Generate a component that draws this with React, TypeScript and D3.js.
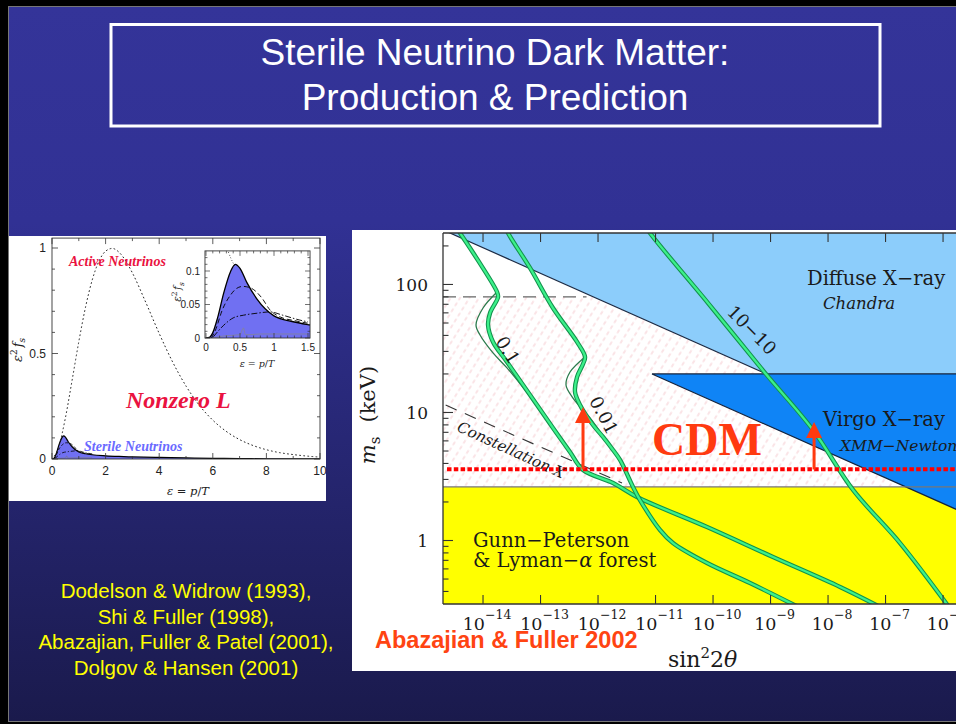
import React from "react";
import * as d3 from "d3";

type Pt = [number, number];

// ---------------- Left panel: momentum spectra ----------------
const activeEps = [0, 0.25, 0.5, 0.75, 1, 1.25, 1.5, 1.75, 2, 2.25, 2.5, 2.75, 3, 3.5, 4, 4.5, 5, 5.5, 6, 6.5, 7, 7.5, 8, 8.5, 9, 9.5, 10];
const activeVals = [0, 0.057, 0.195, 0.373, 0.556, 0.719, 0.848, 0.937, 0.985, 0.998, 0.98, 0.939, 0.882, 0.742, 0.595, 0.46, 0.346, 0.254, 0.184, 0.131, 0.092, 0.064, 0.044, 0.03, 0.021, 0.014, 0.009];

const sterileEps = [0, 0.05, 0.1, 0.17, 0.26, 0.36, 0.43, 0.5, 0.6, 0.75, 1.0, 1.25, 1.5, 2, 2.5, 3, 4, 5, 6, 7, 8, 9, 10];
const sterileVals = [0, 0.001, 0.008, 0.03, 0.067, 0.099, 0.11, 0.104, 0.083, 0.058, 0.033, 0.025, 0.02, 0.015, 0.012, 0.01, 0.0075, 0.005, 0.0032, 0.0018, 0.001, 0.0005, 0.0003];

const dashEps = [0.08, 0.14, 0.24, 0.36, 0.45, 0.54, 0.65, 0.82, 0.94, 1.1, 1.3, 1.5];
const dashVals = [0, 0.012, 0.042, 0.064, 0.074, 0.077, 0.075, 0.06, 0.042, 0.031, 0.026, 0.022];

const dashDotEps = [0.11, 0.26, 0.4, 0.55, 0.75, 0.94, 1.13, 1.37, 1.5];
const dashDotVals = [0.002, 0.019, 0.03, 0.034, 0.037, 0.039, 0.034, 0.027, 0.024];

const thinEps = [0.1, 0.26, 0.5, 0.55, 0.58, 0.65, 0.8, 1.0, 1.5];
const thinVals = [0, 0.003, 0.005, 0.015, 0.005, 0.005, 0.006, 0.006, 0.006];

const dottedInsetEps = [0.33, 0.37, 0.42];
const dottedInsetVals = [0.128, 0.118, 0.108];

const leftXTicks = [0, 2, 4, 6, 8, 10];
const leftXLabels = ["0", "2", "4", "6", "8", "10"];
const leftYTicks = [0, 0.5, 1];
const leftYLabels = ["0", "0.5", "1"];
const insetXTicks = [0, 0.5, 1, 1.5];
const insetXLabels = ["0", "0.5", "1", "1.5"];
const insetYTicks = [0, 0.05, 0.1];
const insetYLabels = ["0", "0.05", "0.1"];

const citations = [
  "Dodelson & Widrow (1993),",
  "Shi & Fuller (1998),",
  "Abazajian, Fuller & Patel (2001),",
  "Dolgov & Hansen (2001)",
];

// ---------------- Right panel: (log10 sin^2 2theta, log10 m_s/keV) ----------------
const curve01Thick: Pt[] = [
  [-14.49, 2.465], [-14.4, 2.402], [-14.07, 2.176], [-13.757, 1.941], [-13.739, 1.902], [-13.878, 1.777],
  [-13.913, 1.684], [-13.826, 1.551], [-13.583, 1.395], [-13.304, 1.215], [-13.061, 1.059], [-12.783, 0.879],
  [-12.487, 0.691], [-12.261, 0.551], [-11.739, 0.449], [-11.322, 0.34], [-10.104, 0.105], [-8.957, -0.129],
  [-7.791, -0.363], [-7.05, -0.53],
];
const curve01Thin: Pt[] = [
  [-13.757, 1.941], [-14.0, 1.816], [-14.122, 1.684], [-14.052, 1.605], [-13.826, 1.465], [-13.583, 1.348],
  [-13.27, 1.176], [-13.009, 1.02],
];
const curve001Thick: Pt[] = [
  [-13.62, 2.46], [-13.565, 2.402], [-13.183, 2.129], [-12.783, 1.816], [-12.365, 1.551], [-12.226, 1.434],
  [-12.261, 1.379], [-12.365, 1.277], [-12.4, 1.16], [-12.313, 1.059], [-12.087, 0.902], [-11.913, 0.809],
  [-11.739, 0.707], [-11.617, 0.629], [-11.391, 0.418], [-11.27, 0.316], [-10.922, 0.082], [-10.696, -0.02],
  [-10.104, -0.176], [-9.357, -0.332], [-8.47, -0.53],
];
const curve001Thin: Pt[] = [
  [-12.226, 1.434], [-12.487, 1.316], [-12.557, 1.215], [-12.435, 1.113], [-12.139, 0.957], [-11.913, 0.816],
];
const curve1e10: Pt[] = [
  [-11.183, 2.465], [-11.096, 2.402], [-10.087, 1.855], [-9.096, 1.309], [-8.261, 0.863], [-7.565, 0.395],
  [-6.748, -0.02], [-5.88, -0.53],
];

const diffuseLine: Pt[] = [[-14.65, 2.417], [-5.5, 0.587]];
const virgoRegion: Pt[] = [[-11.061, 1.301], [-5.5, 1.301], [-5.5, 0.189]];
const lymanTopKeV = 2.62;
const tremaineKeV = 80;
const tremaineEnd = -12.2;
const constellationLine: Pt[] = [[-14.65, 1.058], [-11.583, 0.449]];
const cdmKeV = 3.6;
const arrows: { x: number; base: number; tip: number }[] = [
  { x: -12.261, base: 0.555, tip: 1.043 },
  { x: -8.243, base: 0.555, tip: 0.926 },
];
const xDecades = [-14, -13, -12, -11, -10, -9, -8, -7, -6];
const yMajorKeV = [1, 10, 100];
const yMajorLabels = ["1", "10", "100"];

const serif = "'DejaVu Serif', serif";
const sans = "'Liberation Sans', Arial, sans-serif";
const tserif = "'Liberation Serif', 'Times New Roman', serif";

function GreenCurve({ d }: { d: string }) {
  return (
    <g fill="none" strokeLinejoin="round" strokeLinecap="round">
      <path d={d} stroke="#12924c" strokeWidth={4.4} />
      <path d={d} stroke="#3cf08a" strokeWidth={2.3} />
    </g>
  );
}

export default function App() {
  // ---------- left scales ----------
  const xL = d3.scaleLinear().domain([0, 10]).range([52, 320]);
  const yL = d3.scaleLinear().domain([0, 1]).range([459, 248]);
  const xI = d3.scaleLinear().domain([0, 1.5]).range([206, 308]);
  const yI = d3.scaleLinear().domain([0, 0.1]).range([338, 271]);

  const lineFrom = (xs: number[], ys: number[], sx: any, sy: any) =>
    d3.line<number>().x((_, i) => sx(xs[i])).y((_, i) => sy(ys[i])).curve(d3.curveMonotoneX)(xs) || "";
  const areaFrom = (xs: number[], ys: number[], sx: any, sy: any) =>
    d3.area<number>().x((_, i) => sx(xs[i])).y0(sy(0)).y1((_, i) => sy(ys[i])).curve(d3.curveMonotoneX)(xs) || "";

  const lf = { x0: xL(0), x1: xL(10), y0: yL(0), y1: yL(1.047) };
  const inf = { x0: xI(-0.015), x1: xI(1.53), y0: yI(0), y1: yI(0.13) };

  // ---------- right scales ----------
  const xR = d3.scaleLog().domain([10 ** -14.696, 10 ** -5.5]).range([443, 971.8]);
  const yR = d3.scaleLog().domain([10 ** -0.496, 10 ** 2.402]).range([604, 233]);
  const px = (p: Pt): [number, number] => [xR(10 ** p[0]), yR(10 ** p[1])];
  const curve = (pts: Pt[]) =>
    d3.line<Pt>().x((p) => px(p)[0]).y((p) => px(p)[1]).curve(d3.curveCatmullRom.alpha(0.5))(pts) || "";
  const poly = (pts: Pt[]) => pts.map((p) => px(p).join(",")).join(" ");
  const R = { x0: 443, x1: 972, y0: 604, y1: 233 };

  const diffSlope = (diffuseLine[1][1] - diffuseLine[0][1]) / (diffuseLine[1][0] - diffuseLine[0][0]);
  const diffAt = (lx: number) => diffuseLine[0][1] + diffSlope * (lx - diffuseLine[0][0]);
  const tremaineStart = diffuseLine[0][0] + (Math.log10(tremaineKeV) - diffuseLine[0][1]) / diffSlope;
  const diffusePoly: Pt[] = [diffuseLine[0], diffuseLine[1], [-5.5, 2.6], [-14.65, 2.6]];
  const hatchPoly: Pt[] = [
    [-14.7, Math.log10(tremaineKeV)],
    [tremaineStart, Math.log10(tremaineKeV)],
    [-5.5, diffAt(-5.5)],
    [-5.5, Math.log10(lymanTopKeV)],
    [-14.7, Math.log10(lymanTopKeV)],
  ];

  const yTicksR = yR.ticks();
  const isMajor = (v: number) => Math.abs(Math.log10(v) - Math.round(Math.log10(v))) < 1e-6;

  const tickColor = "#222";

  return (
    <svg width={956} height={724} style={{ display: "block" }}>
      <style>{"body{margin:0;background:#000;}"}</style>
      <defs>
        <linearGradient id="bg" x1="0" y1="0" x2="0" y2="1">
          <stop offset="0%" stopColor="#343499" />
          <stop offset="30%" stopColor="#313194" />
          <stop offset="100%" stopColor="#1a1a4c" />
        </linearGradient>
        <pattern id="hatch" width="8" height="7" patternUnits="userSpaceOnUse" patternTransform="rotate(32)">
          <line x1="4" y1="0.5" x2="4" y2="4.5" stroke="#f5c9ce" strokeWidth="1" />
        </pattern>
        <clipPath id="clipR">
          <rect x={R.x0} y={R.y1} width={R.x1 - R.x0} height={R.y0 - R.y1} />
        </clipPath>
        <clipPath id="clipL">
          <rect x={lf.x0} y={lf.y1} width={lf.x1 - lf.x0} height={lf.y0 - lf.y1} />
        </clipPath>
        <clipPath id="clipI">
          <rect x={inf.x0} y={inf.y1} width={inf.x1 - inf.x0} height={inf.y0 - inf.y1} />
        </clipPath>
      </defs>

      {/* slide background */}
      <rect x={0} y={0} width={956} height={724} fill="#000" />
      <rect x={8.5} y={6.5} width={960} height={715} fill="url(#bg)" stroke="#777" strokeWidth={1} />

      {/* title */}
      <rect x={111} y={24.5} width={769} height={101.5} fill="none" stroke="#fff" strokeWidth={3} />
      <text x={495} y={65} textAnchor="middle" fill="#fff" fontFamily={sans} fontSize={37}>
        Sterile Neutrino Dark Matter:
      </text>
      <text x={495} y={110} textAnchor="middle" fill="#fff" fontFamily={sans} fontSize={37}>
        Production &amp; Prediction
      </text>

      {/* ================= LEFT PANEL ================= */}
      <rect x={9} y={236} width={317} height={265} fill="#fff" />
      <g clipPath="url(#clipL)">
        <path d={areaFrom(sterileEps, sterileVals, xL, yL)} fill="#7070f2" />
        <path d={lineFrom(dashEps, dashVals, xL, yL)} fill="none" stroke="#000" strokeWidth={0.8} strokeDasharray="3 2" />
        <path d={lineFrom(dashDotEps, dashDotVals, xL, yL)} fill="none" stroke="#000" strokeWidth={0.8} strokeDasharray="4 2 1 2" />
        <path d={lineFrom(thinEps, thinVals, xL, yL)} fill="none" stroke="#777" strokeWidth={0.6} />
        <path d={lineFrom(sterileEps, sterileVals, xL, yL)} fill="none" stroke="#000" strokeWidth={1.2} />
        <path d={lineFrom(activeEps, activeVals, xL, yL)} fill="none" stroke="#222" strokeWidth={1} strokeDasharray="0.9 3.2" strokeLinecap="round" />
      </g>
      <rect x={lf.x0} y={lf.y1} width={lf.x1 - lf.x0} height={lf.y0 - lf.y1} fill="none" stroke="#333" strokeWidth={0.9} />
      {/* left ticks */}
      <g stroke="#333" strokeWidth={0.8}>
        {d3.range(0, 10.001, 1).map((v) => {
          const len = Math.abs(v % 2) < 1e-6 ? 6 : 3;
          return (
            <g key={"lx" + v}>
              <line x1={xL(v)} x2={xL(v)} y1={lf.y0} y2={lf.y0 - len} />
              <line x1={xL(v)} x2={xL(v)} y1={lf.y1} y2={lf.y1 + len} />
            </g>
          );
        })}
        {d3.range(0, 1.0001, 0.1).map((v) => {
          const major = Math.abs(v - 0) < 1e-6 || Math.abs(v - 0.5) < 1e-6 || Math.abs(v - 1) < 1e-6;
          const len = major ? 6 : 3;
          return (
            <g key={"ly" + v}>
              <line x1={lf.x0} x2={lf.x0 + len} y1={yL(v)} y2={yL(v)} />
              <line x1={lf.x1} x2={lf.x1 - len} y1={yL(v)} y2={yL(v)} />
            </g>
          );
        })}
      </g>
      <g fontFamily={sans} fontSize={12} fill={tickColor}>
        {leftXTicks.map((v, i) => (
          <text key={"lxl" + v} x={xL(v)} y={475} textAnchor="middle">{leftXLabels[i]}</text>
        ))}
        {leftYTicks.map((v, i) => (
          <text key={"lyl" + v} x={46} y={yL(v) + 4} textAnchor="end">{leftYLabels[i]}</text>
        ))}
      </g>
      <text x={188} y={495} textAnchor="middle" fontFamily={serif} fontSize={11.5} fill="#222">
        <tspan fontStyle="italic">ε</tspan> = <tspan fontStyle="italic">p</tspan>/<tspan fontStyle="italic">T</tspan>
      </text>
      <text transform="translate(22,350) rotate(-90)" textAnchor="middle" fontFamily={serif} fontSize={13} fill="#222">
        <tspan fontStyle="italic">ε</tspan>
        <tspan dy={-5} fontSize={9}>2</tspan>
        <tspan dy={5} dx={2} fontStyle="italic">f</tspan>
        <tspan dy={3} fontSize={9} fontStyle="italic">s</tspan>
      </text>
      <text x={69} y={266} fontFamily={tserif} fontStyle="italic" fontWeight="bold" fontSize={14} fill="#ea1240">
        Active Neutrinos
      </text>
      <text x={126} y={408} fontFamily={tserif} fontStyle="italic" fontWeight="bold" fontSize={24} fill="#ea1240">
        Nonzero L
      </text>
      <text x={84} y={451} fontFamily={tserif} fontStyle="italic" fontWeight="bold" fontSize={14} fill="#6a6aff">
        Sterile Neutrinos
      </text>

      {/* inset */}
      <rect x={inf.x0} y={inf.y1} width={inf.x1 - inf.x0} height={inf.y0 - inf.y1} fill="#fff" />
      <g clipPath="url(#clipI)">
        <path d={areaFrom(sterileEps, sterileVals, xI, yI)} fill="#7070f2" />
        <path d={lineFrom(dashEps, dashVals, xI, yI)} fill="none" stroke="#000" strokeWidth={0.9} strokeDasharray="5 3" />
        <path d={lineFrom(dashDotEps, dashDotVals, xI, yI)} fill="none" stroke="#000" strokeWidth={0.9} strokeDasharray="6 2 1.5 2" />
        <path d={lineFrom(thinEps, thinVals, xI, yI)} fill="none" stroke="#888" strokeWidth={0.7} />
        <path d={lineFrom(dottedInsetEps, dottedInsetVals, xI, yI)} fill="none" stroke="#222" strokeWidth={0.9} strokeDasharray="0.8 2" />
        <path d={lineFrom(sterileEps, sterileVals, xI, yI)} fill="none" stroke="#000" strokeWidth={1.3} />
      </g>
      <rect x={inf.x0} y={inf.y1} width={inf.x1 - inf.x0} height={inf.y0 - inf.y1} fill="none" stroke="#333" strokeWidth={0.9} />
      <g stroke="#333" strokeWidth={0.7}>
        {d3.range(0, 1.5001, 0.1).map((v) => {
          const major = Math.abs(v * 2 - Math.round(v * 2)) < 1e-6;
          const len = major ? 5 : 2.5;
          return (
            <g key={"ix" + v}>
              <line x1={xI(v)} x2={xI(v)} y1={inf.y0} y2={inf.y0 - len} />
              <line x1={xI(v)} x2={xI(v)} y1={inf.y1} y2={inf.y1 + len} />
            </g>
          );
        })}
        {d3.range(0, 0.13, 0.01).map((v) => {
          const major = Math.abs(v * 20 - Math.round(v * 20)) < 1e-6;
          const len = major ? 5 : 2.5;
          return (
            <g key={"iy" + v}>
              <line x1={inf.x0} x2={inf.x0 + len} y1={yI(v)} y2={yI(v)} />
              <line x1={inf.x1} x2={inf.x1 - len} y1={yI(v)} y2={yI(v)} />
            </g>
          );
        })}
      </g>
      <g fontFamily={sans} fontSize={10} fill={tickColor}>
        {insetXTicks.map((v, i) => (
          <text key={"ixl" + v} x={xI(v)} y={351} textAnchor="middle">{insetXLabels[i]}</text>
        ))}
        {insetYTicks.map((v, i) => (
          <text key={"iyl" + v} x={200} y={yI(v) + 3.5} textAnchor="end">{insetYLabels[i]}</text>
        ))}
      </g>
      <text x={257} y={367} textAnchor="middle" fontFamily={serif} fontSize={9.5} fill="#222">
        <tspan fontStyle="italic">ε</tspan> = <tspan fontStyle="italic">p</tspan>/<tspan fontStyle="italic">T</tspan>
      </text>
      <text transform="translate(181,292) rotate(-90)" textAnchor="middle" fontFamily={serif} fontSize={10.5} fill="#222">
        <tspan fontStyle="italic">ε</tspan>
        <tspan dy={-4} fontSize={7.5}>2</tspan>
        <tspan dy={4} dx={1.5} fontStyle="italic">f</tspan>
        <tspan dy={2.5} fontSize={7.5} fontStyle="italic">s</tspan>
      </text>

      {/* citations */}
      <g fontFamily={sans} fontSize={20.5} fill="#ffff00" textAnchor="middle">
        {citations.map((c, i) => (
          <text key={c} x={186} y={598 + i * 25.7}>{c}</text>
        ))}
      </g>

      {/* ================= RIGHT PANEL ================= */}
      <rect x={352} y={230} width={610} height={441} fill="#fff" />
      <g clipPath="url(#clipR)">
        <rect x={R.x0} y={yR(lymanTopKeV)} width={R.x1 - R.x0} height={R.y0 - yR(lymanTopKeV)} fill="#ffff00" />
        <polygon points={poly(hatchPoly)} fill="url(#hatch)" />
        <polygon points={poly(diffusePoly)} fill="#8ccdfb" />
        <line x1={px(diffuseLine[0])[0]} y1={px(diffuseLine[0])[1]} x2={px(diffuseLine[1])[0]} y2={px(diffuseLine[1])[1]} stroke="#1b2a44" strokeWidth={1.2} />
        <polygon points={poly(virgoRegion)} fill="#0f84f6" stroke="#14233d" strokeWidth={1.2} />
        <line x1={R.x0} x2={R.x1} y1={yR(lymanTopKeV)} y2={yR(lymanTopKeV)} stroke="#777" strokeWidth={1.3} />
        <line x1={R.x0} x2={xR(10 ** tremaineEnd)} y1={yR(tremaineKeV)} y2={yR(tremaineKeV)} stroke="#666" strokeWidth={1.2} strokeDasharray="13 7" />
        <line x1={px(constellationLine[0])[0]} y1={px(constellationLine[0])[1]} x2={px(constellationLine[1])[0]} y2={px(constellationLine[1])[1]} stroke="#333" strokeWidth={1.1} strokeDasharray="12 9" />

        <path d={curve(curve01Thin)} fill="none" stroke="#2c7a4c" strokeWidth={1.3} />
        <path d={curve(curve001Thin)} fill="none" stroke="#2c7a4c" strokeWidth={1.3} />
        <GreenCurve d={curve(curve01Thick)} />
        <GreenCurve d={curve(curve001Thick)} />
        <GreenCurve d={curve(curve1e10)} />

        <line x1={447} x2={R.x1} y1={yR(cdmKeV)} y2={yR(cdmKeV)} stroke="#ff0000" strokeWidth={4} strokeDasharray="4.5 2.3" />
        {arrows.map((a) => {
          const x = xR(10 ** a.x);
          const yb = yR(10 ** a.base);
          const yt = yR(10 ** a.tip);
          return (
            <g key={"ar" + a.x} fill="#ff3a10" stroke="none">
              <rect x={x - 1.5} y={yt + 14} width={3} height={yb - yt - 14} />
              <polygon points={`${x},${yt} ${x - 8},${yt + 16} ${x + 8},${yt + 16}`} />
            </g>
          );
        })}
      </g>
      {/* frame */}
      <g stroke="#333" strokeWidth={1.3} fill="none">
        <line x1={R.x0} x2={R.x0} y1={R.y1} y2={R.y0} />
        <line x1={R.x0} x2={R.x1} y1={R.y1} y2={R.y1} />
        <line x1={R.x0} x2={R.x1} y1={R.y0} y2={R.y0} />
      </g>
      <g stroke="#333" strokeWidth={1.1}>
        {yTicksR.map((v) => {
          const len = isMajor(v) ? 10 : 5.5;
          return <line key={"ry" + v} x1={R.x0} x2={R.x0 + len} y1={yR(v)} y2={yR(v)} />;
        })}
        {xDecades.map((e) => (
          <g key={"rx" + e}>
            <line x1={xR(10 ** e)} x2={xR(10 ** e)} y1={R.y0} y2={R.y0 - 9} />
            <line x1={xR(10 ** e)} x2={xR(10 ** e)} y1={R.y1} y2={R.y1 + 9} />
          </g>
        ))}
      </g>
      <g fontFamily={serif} fill="#1a1a1a">
        {yMajorKeV.map((v, i) => (
          <text key={"ryl" + v} x={428} y={yR(v) + 6.5} textAnchor="end" fontSize={17}>{yMajorLabels[i]}</text>
        ))}
        {xDecades.map((e) => (
          <text key={"rxl" + e} x={xR(10 ** e) + 4} y={630} textAnchor="middle" fontSize={17.5}>
            10<tspan dy={-11} fontSize={12.5}>{"\u2212" + Math.abs(e)}</tspan>
          </text>
        ))}
        <text x={668} y={667} fontSize={22}>
          sin<tspan dy={-9} fontSize={15}>2</tspan><tspan dy={9}>2</tspan><tspan fontStyle="italic">θ</tspan>
        </text>
        <text transform="translate(375,415) rotate(-90)" textAnchor="middle" fontSize={21}>
          <tspan fontStyle="italic">m</tspan>
          <tspan dy={5} fontSize={15}>s</tspan>
          <tspan dy={-5} dx={14}>(keV)</tspan>
        </text>

        <text x={807} y={285} fontSize={19.5}>Diffuse X−ray</text>
        <text x={823} y={309} fontSize={16.5} fontStyle="italic">Chandra</text>
        <text x={823} y={426} fontSize={19.5}>Virgo X−ray</text>
        <text x={840} y={451} fontSize={15.5} fontStyle="italic">XMM−Newton</text>
        <text x={473} y={547} fontSize={19.5}>Gunn−Peterson</text>
        <text x={473} y={567} fontSize={19.5}>
          &amp; Lyman−<tspan fontStyle="italic">α</tspan> forest
        </text>

        <text transform={`translate(${xR(10 ** -13.565)},${yR(10 ** 1.488)}) rotate(58)`} textAnchor="middle" dominantBaseline="central" fontSize={18}>0.1</text>
        <text transform={`translate(${xR(10 ** -11.896)},${yR(10 ** 0.98)}) rotate(62)`} textAnchor="middle" dominantBaseline="central" fontSize={18}>0.01</text>
        <text transform={`translate(${xR(10 ** -9.322)},${yR(10 ** 1.645)}) rotate(45)`} textAnchor="middle" dominantBaseline="central" fontSize={18}>10−10</text>
        <text transform={`translate(${xR(10 ** -13.513)},${yR(10 ** 0.707)}) rotate(24.5)`} textAnchor="middle" dominantBaseline="central" fontSize={15} fontStyle="italic">Constellation X</text>
      </g>

      <text x={652} y={455} fontFamily={tserif} fontWeight="bold" fontSize={46} fill="#ff3a10">CDM</text>
      <text x={375} y={648} fontFamily={sans} fontWeight="bold" fontSize={23.5} fill="#ff4412">Abazajian &amp; Fuller 2002</text>
    </svg>
  );
}
